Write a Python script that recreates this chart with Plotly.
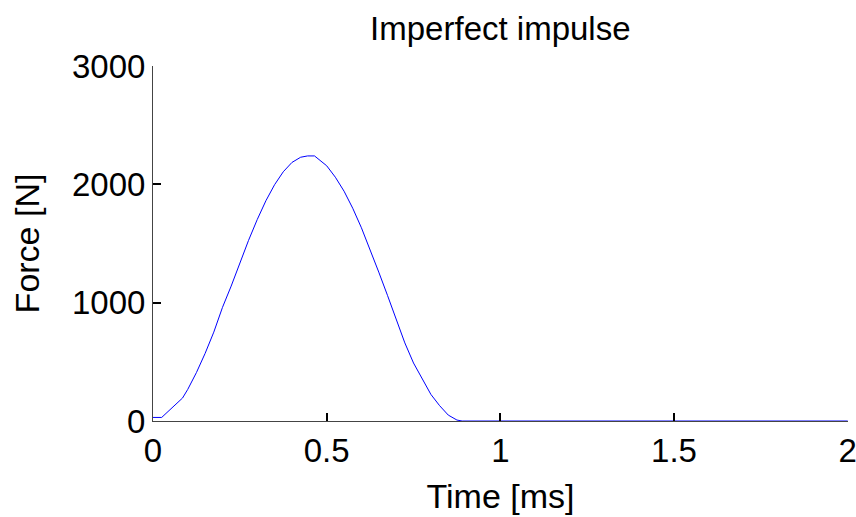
import plotly.graph_objects as go

time_ms = [0, 0.025, 0.085, 0.1, 0.125, 0.15, 0.175, 0.2, 0.225, 0.25, 0.275, 0.3,
           0.325, 0.35, 0.375, 0.4, 0.425, 0.445, 0.465, 0.5, 0.525, 0.55, 0.575,
           0.6, 0.625, 0.65, 0.675, 0.7, 0.725, 0.75, 0.775, 0.8, 0.825, 0.85,
           0.875, 0.89, 1.0, 1.5, 2.0]
force_n = [30, 30, 194, 267, 409, 571, 751, 960, 1140, 1336, 1526, 1702,
           1861, 1997, 2106, 2185, 2229, 2240, 2240, 2157, 2060, 1942, 1798,
           1633, 1449, 1258, 1062, 866, 660, 490, 360, 225, 130, 50,
           8, 0, 0, 0, 0]

x_ticks = [0, 0.5, 1, 1.5, 2]
x_tick_labels = ["0", "0.5", "1", "1.5", "2"]
y_ticks = [0, 1000, 2000, 3000]
y_tick_labels = ["0", "1000", "2000", "3000"]

font = "Liberation Sans, Arial, sans-serif"
FS = 33

fig = go.Figure()
fig.add_trace(go.Scatter(x=time_ms, y=force_n, mode="lines",
                         line=dict(color="#0000ff", width=1), showlegend=False,
                         cliponaxis=False))

fig.update_layout(
    width=856, height=517,
    paper_bgcolor="white", plot_bgcolor="white",
    margin=dict(l=153, r=8, t=66, b=96, autoexpand=False),
    title=dict(text="Imperfect impulse", x=0.5845, xanchor="center", y=0.945, yanchor="middle",
               font=dict(family=font, size=FS, color="black")),
    font=dict(family=font, color="black"),
)
fig.update_xaxes(range=[0, 2.0008], tickvals=x_ticks, ticktext=x_tick_labels,
                 showgrid=False, zeroline=False, showline=True, linecolor="#444",
                 linewidth=1, ticks="inside", ticklen=8, tickwidth=2, tickcolor="black",
                 ticklabelstandoff=0, ticklabeloverflow="allow",
                 tickfont=dict(size=FS, family=font, color="black"),
                 title=dict(text="Time [ms]", font=dict(size=34, family=font, color="black"), standoff=16))
fig.update_yaxes(range=[0, 3000], tickvals=y_ticks, ticktext=y_tick_labels,
                 showgrid=False, zeroline=False, showline=True, linecolor="#444",
                 linewidth=1, ticks="inside", ticklen=8, tickwidth=2, tickcolor="black",
                 ticklabelstandoff=0, ticklabeloverflow="allow",
                 tickfont=dict(size=FS, family=font, color="black"),
                 title=dict(text="Force [N]", font=dict(size=34, family=font, color="black"), standoff=22))

fig.write_html("out.html", config={"displayModeBar": False},
               post_script="document.body.style.margin='0';")
